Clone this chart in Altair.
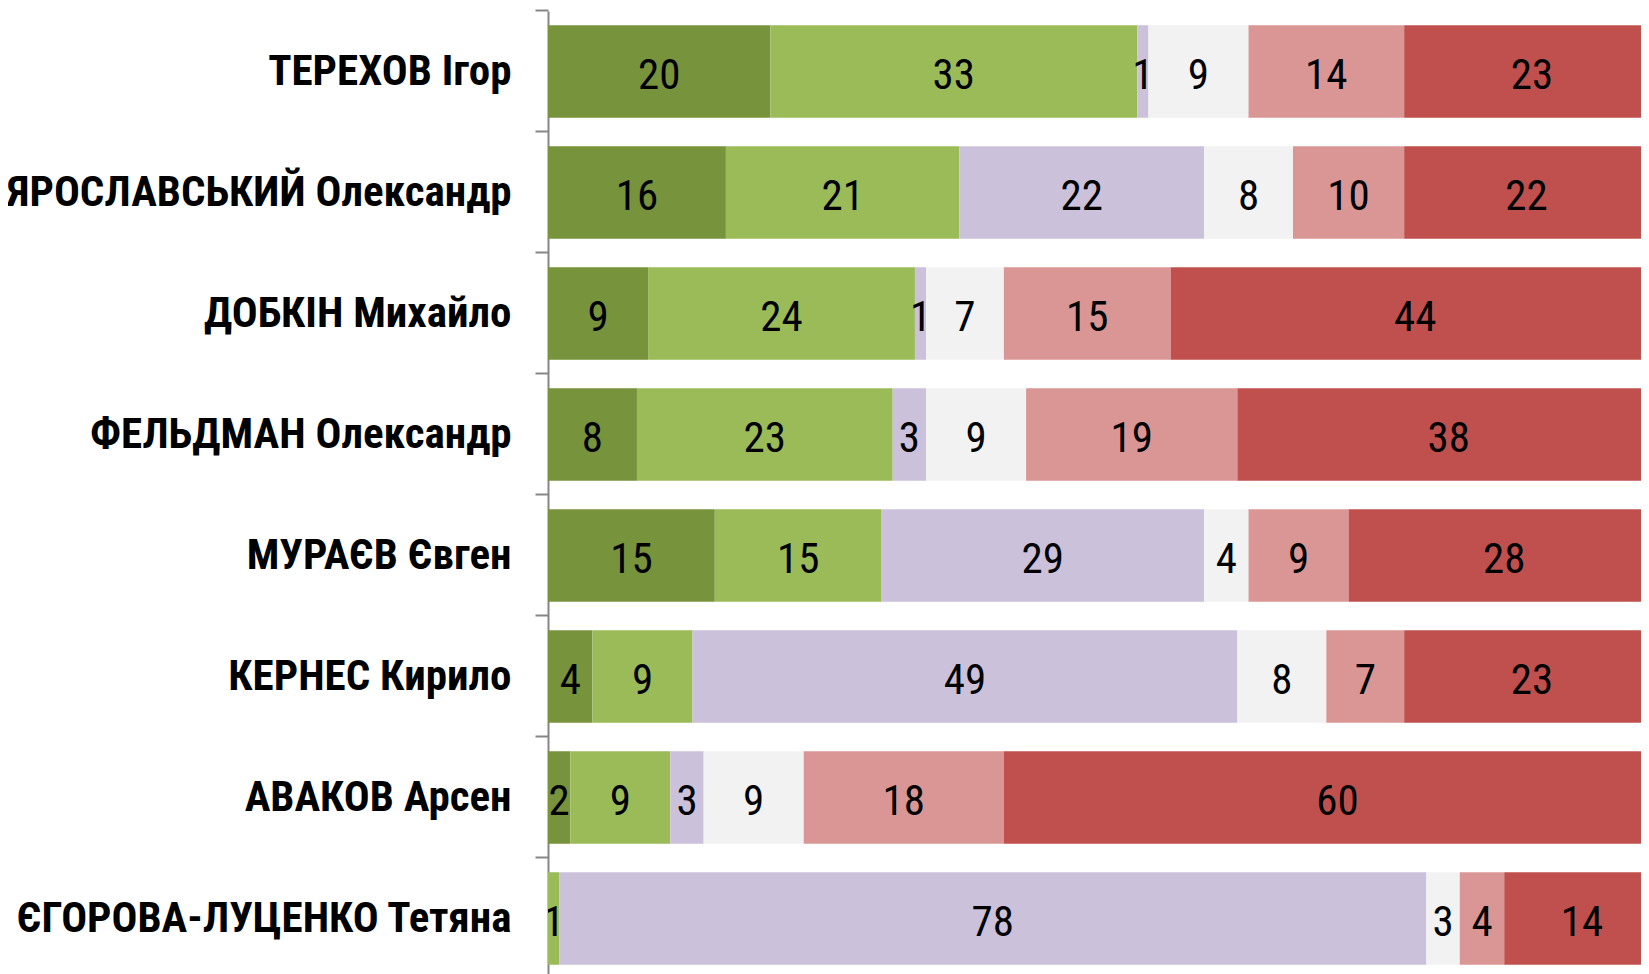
import altair as alt
import pandas as pd

names = [
    "ТЕРЕХОВ Ігор",
    "ЯРОСЛАВСЬКИЙ Олександр",
    "ДОБКІН Михайло",
    "ФЕЛЬДМАН Олександр",
    "МУРАЄВ Євген",
    "КЕРНЕС Кирило",
    "АВАКОВ Арсен",
    "ЄГОРОВА-ЛУЦЕНКО Тетяна",
]
series = ["s1", "s2", "s3", "s4", "s5", "s6"]
colors = ["#77933C", "#9BBB59", "#CCC1DA", "#F2F2F2", "#D99694", "#C0504D"]

s1 = [20, 16, 9, 8, 15, 4, 2, 0]
s2 = [33, 21, 24, 23, 15, 9, 9, 1]
s3 = [1, 22, 1, 3, 29, 49, 3, 78]
s4 = [9, 8, 7, 9, 4, 8, 9, 3]
s5 = [14, 10, 15, 19, 9, 7, 18, 4]
s6 = [23, 22, 44, 38, 28, 23, 60, 14]

rows = []
for si, vals in enumerate([s1, s2, s3, s4, s5, s6]):
    for ni, v in enumerate(vals):
        rows.append({"name": names[ni], "series": series[si], "idx": si, "value": v})
df = pd.DataFrame(rows)

FONT = "Roboto Condensed, Liberation Sans"

base = alt.Chart(df).transform_stack(
    stack="value", groupby=["name"], as_=["x0", "x1"],
    sort=[alt.SortField("idx", order="ascending")]
).transform_calculate(mid="(datum.x0 + datum.x1) / 2")

xscale = alt.Scale(domain=[0, 98.3], nice=False, zero=True)
yscale = alt.Scale(domain=names, paddingInner=0.235, paddingOuter=0.1175)

bars = base.mark_bar(clip=True).encode(
    y=alt.Y("name:N", scale=yscale, sort=names, title=None,
            axis=alt.Axis(domain=True, domainColor="#868686", domainWidth=2,
                          ticks=True, tickColor="#868686", tickWidth=2, tickSize=13,
                          bandPosition=-0.154, labelPadding=24,
                          labelFont=FONT, labelFontSize=43, labelFontWeight="bold",
                          labelColor="#000000", grid=False, labelLimit=1000)),
    x=alt.X("x0:Q", scale=xscale, axis=None),
    x2="x1:Q",
    color=alt.Color("series:N", scale=alt.Scale(domain=series, range=colors), legend=None),
)

labels = base.transform_filter("datum.value > 0").mark_text(
    clip=True, font=FONT, fontSize=43, color="#000000", baseline="middle", align="center", dy=4
).encode(
    y=alt.Y("name:N", scale=yscale, sort=names),
    x=alt.X("mid:Q", scale=xscale),
    text="value:Q",
)

chart = alt.layer(bars, labels).properties(
    width=1093, height=968,
    autosize=alt.AutoSizeParams(type="none"),
    padding={"left": 540, "top": 3, "right": 0, "bottom": 0},
    background="#FFFFFF",
).configure_view(stroke=None)

chart.save("out.html", embed_options={"renderer": "svg", "actions": False})
